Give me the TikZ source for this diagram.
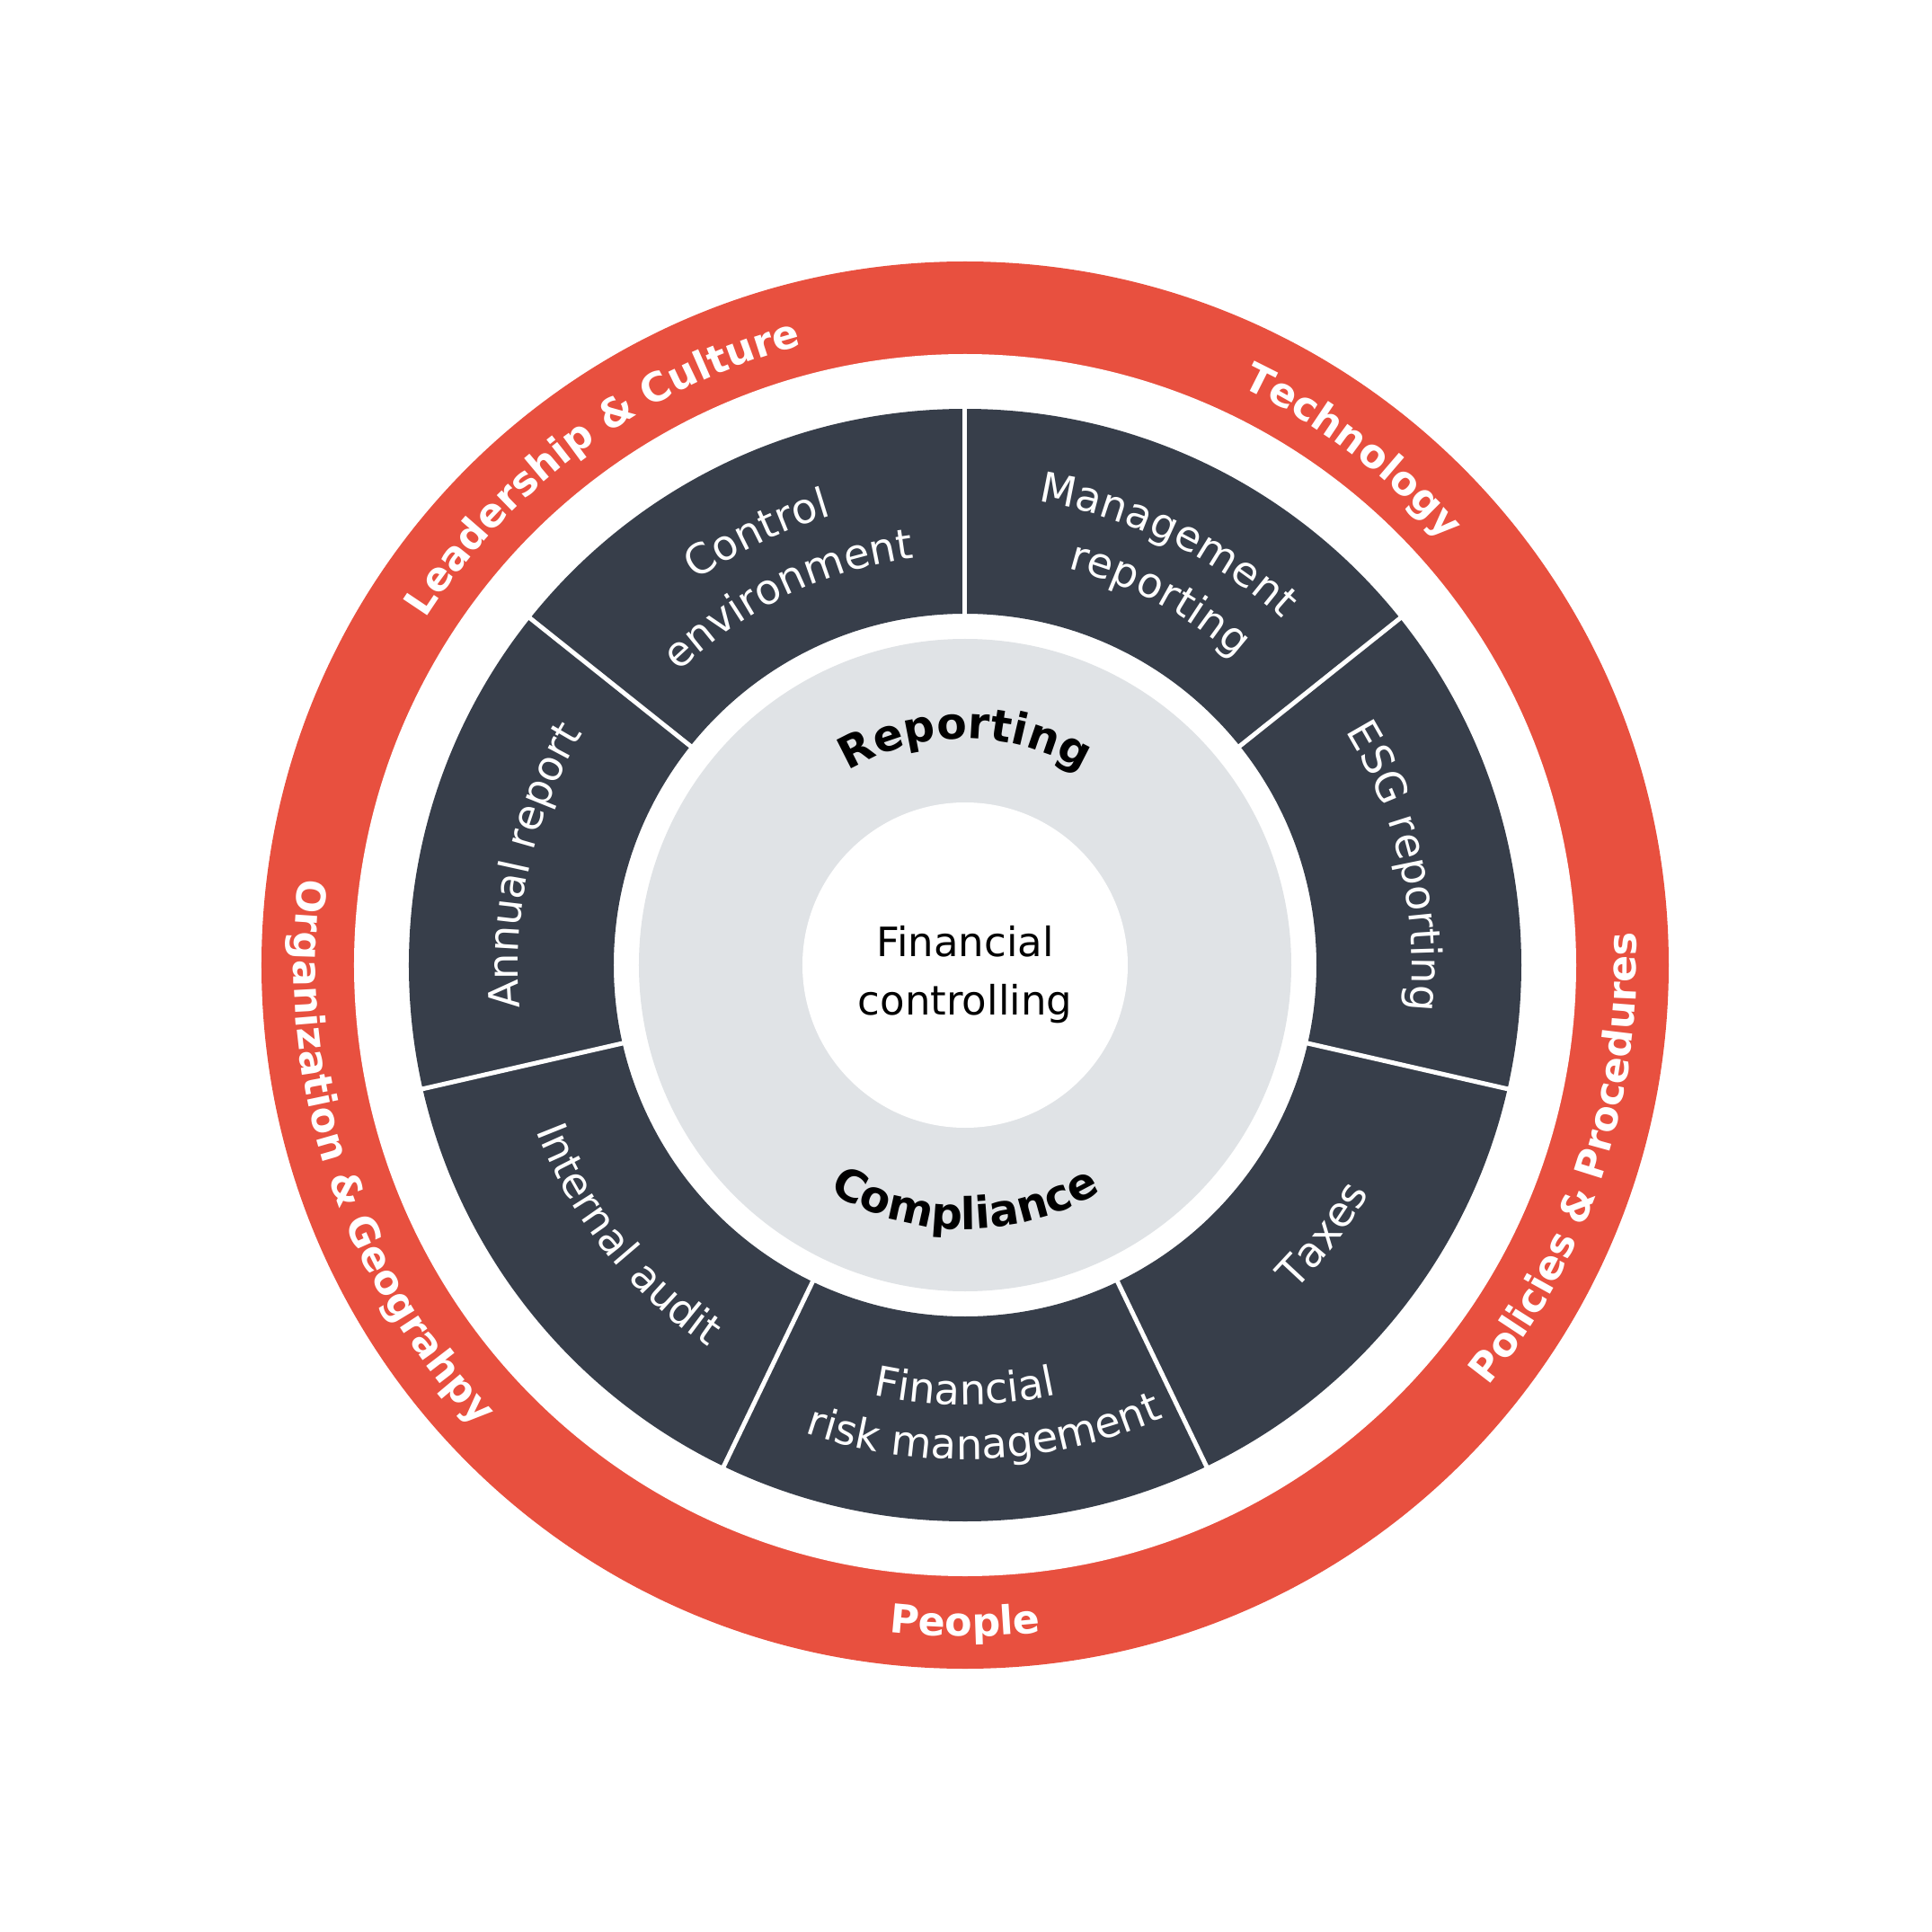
\documentclass[tikz,border=0pt]{standalone}
\usepackage{fontspec}
\setmainfont{DejaVu Sans}
\usetikzlibrary{decorations.text}
\definecolor{ringred}{HTML}{E8503F}
\definecolor{segdark}{HTML}{373E4A}
\definecolor{coregray}{HTML}{E0E3E6}
% clockwise arc text (tops outward): radius, mid angle, font, colour, text
\newcommand{\cwtext}[5]{%
  \path[decorate,decoration={text along path,text align=center,text color=#4,text={|#3|#5}}]
    ({#2+85}:#1) arc[start angle={#2+85}, end angle={#2-85}, radius=#1];}
% counter-clockwise arc text (tops toward centre)
\newcommand{\ccwtext}[5]{%
  \path[decorate,decoration={text along path,text align=center,text color=#4,text={|#3|#5}}]
    ({#2-85}:#1) arc[start angle={#2-85}, end angle={#2+85}, radius=#1];}
\newcommand{\ringfont}{\fontsize{12.6}{15}\selectfont\bfseries}
\newcommand{\segfont}{\fontsize{13.2}{16}\selectfont}
\newcommand{\corefont}{\fontsize{13.9}{16}\selectfont\bfseries}
\begin{document}
\begin{tikzpicture}
\useasboundingbox (-10.74,-10.76) rectangle (10.75,10.74);
\fill[white] (-10.74,-10.76) rectangle (10.75,10.74);
% outer red ring
\fill[ringred] (0,0) circle[radius=7.83cm];
\fill[white] (0,0) circle[radius=6.80cm];
% dark segment ring
\fill[segdark, even odd rule] (0,0) circle[radius=6.19cm] (0,0) circle[radius=3.91cm];
\foreach \k in {0,...,6}
  \draw[white, line width=0.05cm] ({90+\k*360/7}:3.8cm) -- ({90+\k*360/7}:6.3cm);
% core
\fill[coregray] (0,0) circle[radius=3.63cm];
\fill[white] (0,0) circle[radius=1.81cm];
\node[align=center, font=\fontsize{12.8}{18.5}\selectfont, inner sep=0pt] (core) at (0,-0.11) {Financial\\controlling};
% ring labels
\cwtext{7.13cm}{126}{\ringfont}{white}{Leadership {\&} Culture}
\cwtext{7.13cm}{53}{\ringfont}{white}{Technology}
\ccwtext{7.47cm}{342}{\ringfont}{white}{Policies {\&} Procedures}
\ccwtext{7.47cm}{270}{\ringfont}{white}{People}
\ccwtext{7.47cm}{198}{\ringfont}{white}{Organization {\&} Geograhpy}
% segment labels
\cwtext{5.22cm}{115.714}{\segfont}{white}{Control}
\cwtext{4.56cm}{115.714}{\segfont}{white}{environment}
\cwtext{4.97cm}{167.143}{\segfont}{white}{Annual report}
\ccwtext{5.12cm}{218.571}{\segfont}{white}{Internal audit}
\ccwtext{4.89cm}{270}{\segfont}{white}{Financial}
\ccwtext{5.50cm}{272.4}{\segfont}{white}{risk management}
\ccwtext{5.16cm}{323}{\segfont}{white}{Taxes}
\cwtext{4.97cm}{12.857}{\segfont}{white}{ESG reporting}
\cwtext{5.22cm}{64.286}{\segfont}{white}{Management}
\cwtext{4.56cm}{62}{\segfont}{white}{reporting}
% core labels
\cwtext{2.52cm}{90}{\corefont}{black}{Reporting}
\ccwtext{2.94cm}{270}{\corefont}{black}{Compliance}
\end{tikzpicture}
\end{document}
